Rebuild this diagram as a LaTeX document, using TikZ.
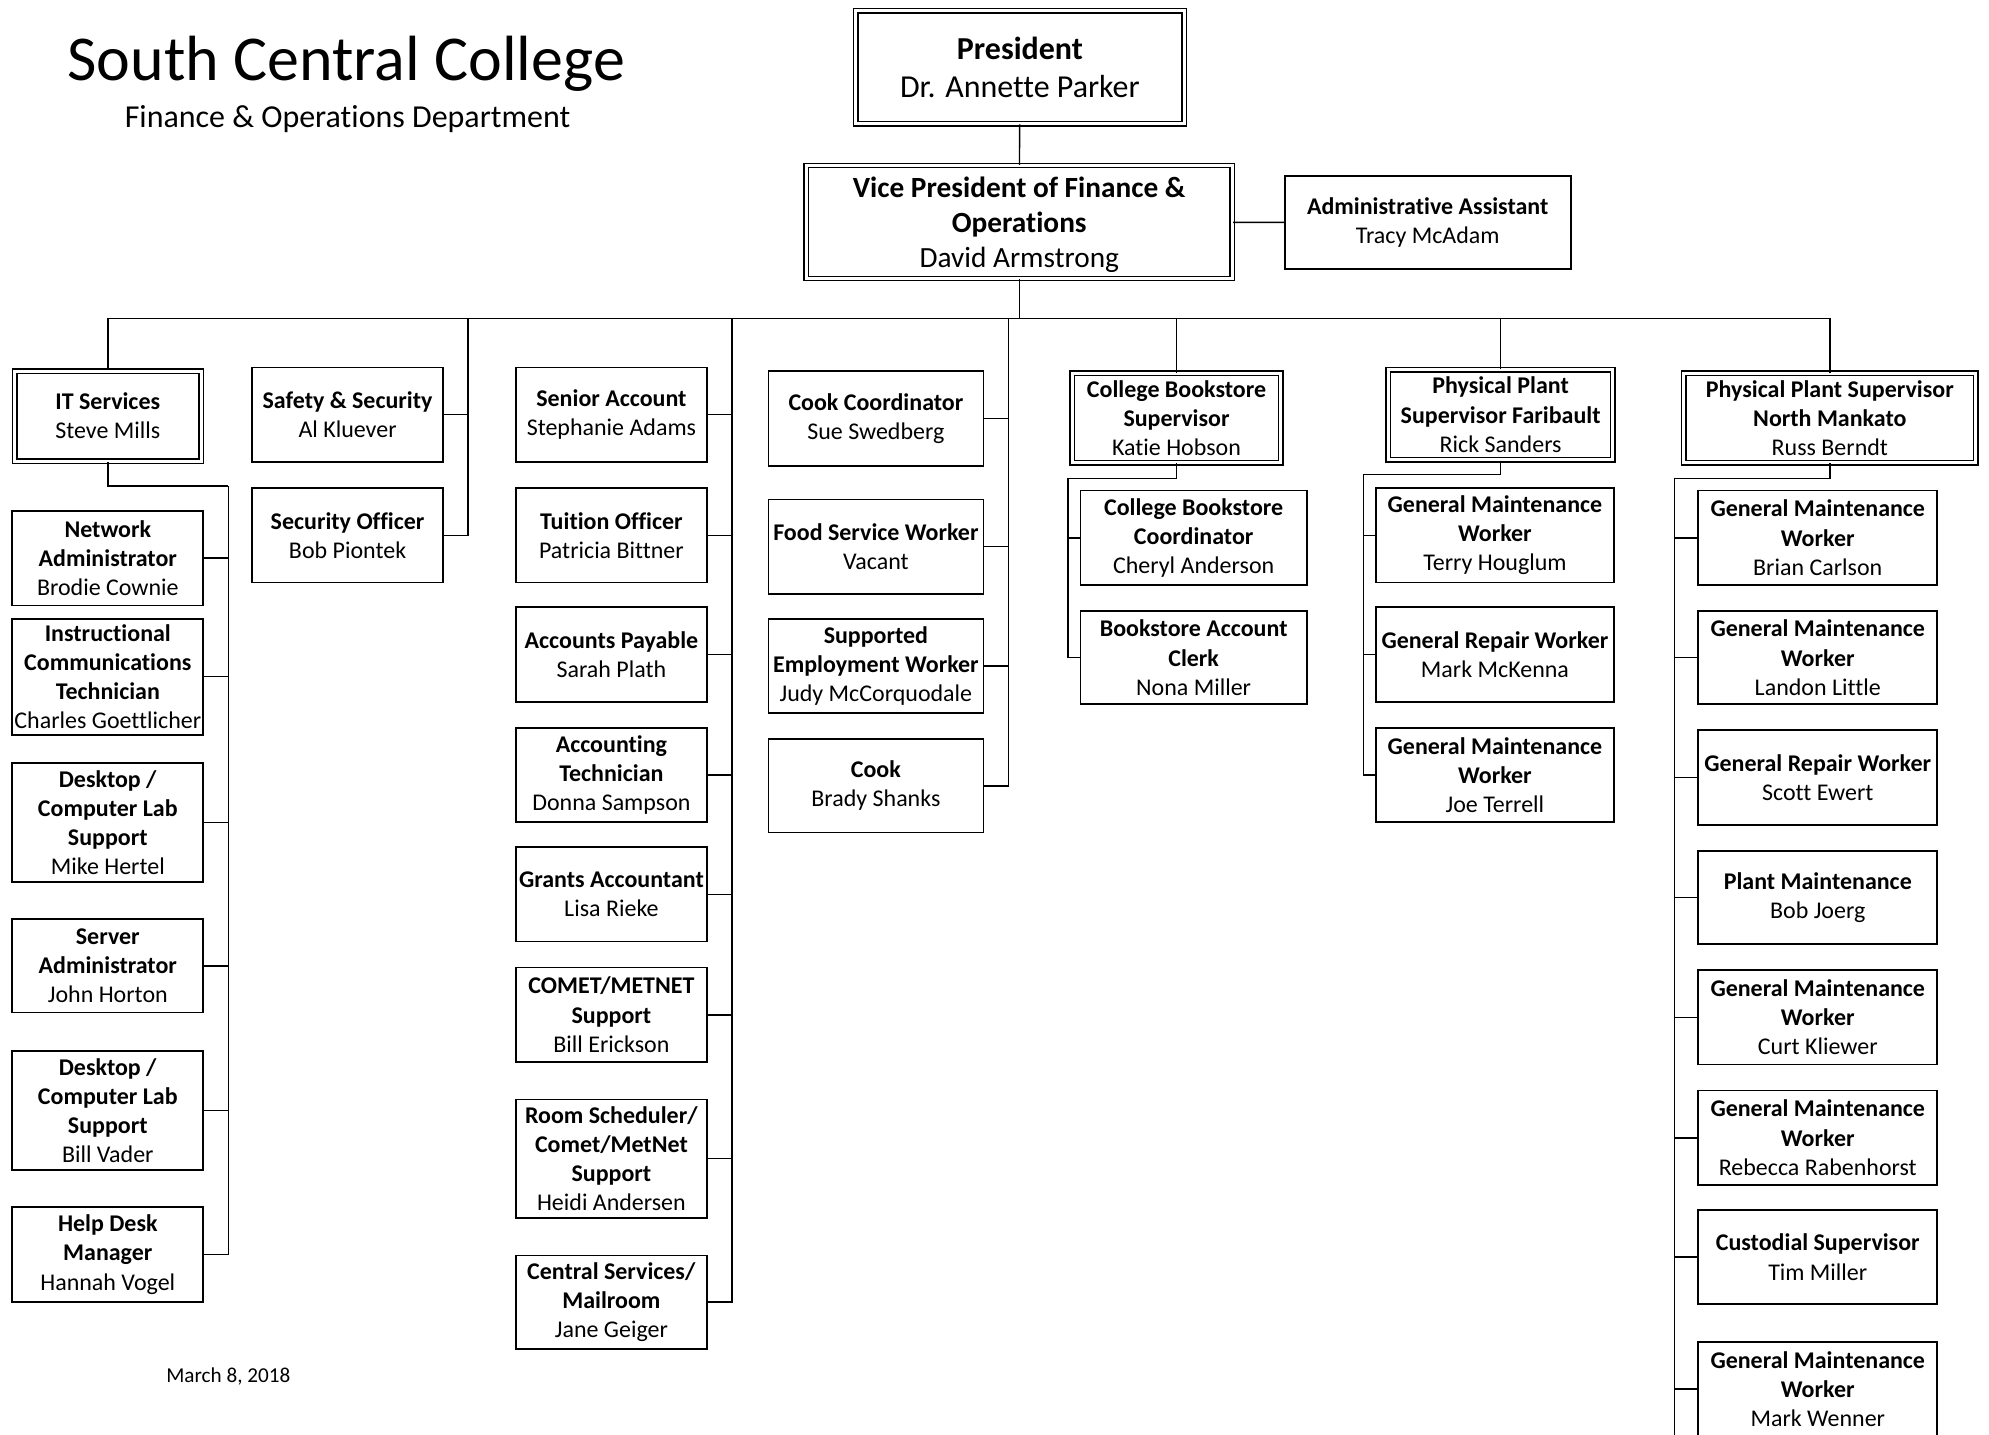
\documentclass[tikz,border=0pt]{standalone}
\usepackage{fontspec}
\setmainfont{Carlito}[RawFeature={-liga;-clig;-calt;-dlig}]
\usepackage{tikz}

\begin{document}
\begin{tikzpicture}[
		x=1pt, y=-1pt,
		line width=1.1pt,
		post/.style = {
			rectangle, draw, line width=1.4pt,
			align=center, inner sep=0pt,
			font=\fontsize{18.9}{23}\selectfont
		},
		lead/.style = {
			post, double, double distance=2.4pt, line width=1.1pt
		}
	]
	\useasboundingbox (0,0) rectangle (1568,1131);

	% heading
	\node[inner sep=0pt, font=\fontsize{50.4}{60}\selectfont] (title) at (273,50) {South Central College};
	\node[inner sep=0pt, font=\fontsize{25.2}{30}\selectfont] (dept) at (274,94) {Finance \& Operations Department};
	\node[inner sep=0pt, font=\fontsize{16.7}{20}\selectfont] (date) at (180,1085) {March 8, 2018};

	% top
	\node[lead, minimum width=259pt, minimum height=89pt, font=\fontsize{25.2}{30}\selectfont] (pres) at (804,53)
		{\textbf{President}\\Dr. Annette Parker};
	\node[lead, minimum width=336pt, minimum height=89pt, text depth=0pt, font=\fontsize{23.1}{27.5}\selectfont] (vp) at (803.5,175)
		{\textbf{Vice President of Finance \&}\\\textbf{Operations}\\David Armstrong};
	\node[post, minimum width=225.5pt, minimum height=73.5pt] (admin) at (1125.5,175.5)
		{\textbf{Administrative Assistant}\\Tracy McAdam};

	% IT
	\node[lead, minimum width=147pt, minimum height=71pt] (it) at (85,328) {\textbf{IT Services}\\Steve Mills};
	\node[post, minimum width=150.5pt, minimum height=74.5pt] (net) at (85,440)
		{\textbf{Network}\\\textbf{Administrator}\\Brodie Cownie};
	\node[post, minimum width=150.5pt, minimum height=91.5pt] (instr) at (85,533.5)
		{\textbf{Instructional}\\\textbf{Communications}\\\textbf{Technician}\\Charles Goettlicher};
	\node[post, minimum width=150.5pt, minimum height=93.5pt] (deskA) at (85,648.5)
		{\textbf{Desktop /}\\\textbf{Computer Lab}\\\textbf{Support}\\Mike Hertel};
	\node[post, minimum width=150.5pt, minimum height=73.5pt] (server) at (85,761.5)
		{\textbf{Server}\\\textbf{Administrator}\\John Horton};
	\node[post, minimum width=150.5pt, minimum height=93.5pt] (deskB) at (85,875.5)
		{\textbf{Desktop /}\\\textbf{Computer Lab}\\\textbf{Support}\\Bill Vader};
	\node[post, minimum width=150.5pt, minimum height=74.5pt] (helpdesk) at (85,989)
		{\textbf{Help Desk}\\\textbf{Manager}\\Hannah Vogel};

	% safety
	\node[post, minimum width=150.5pt, minimum height=74.5pt] (safety) at (274,327)
		{\textbf{Safety \& Security}\\Al Kluever};
	\node[post, minimum width=150.5pt, minimum height=74.5pt] (secoff) at (274,422)
		{\textbf{Security Officer}\\Bob Piontek};

	% finance
	\node[post, minimum width=150.5pt, minimum height=74.5pt] (senior) at (482,327)
		{\textbf{Senior Account}\\Stephanie Adams};
	\node[post, minimum width=150.5pt, minimum height=74.5pt] (tuition) at (482,422)
		{\textbf{Tuition Officer}\\Patricia Bittner};
	\node[post, minimum width=150.5pt, minimum height=74.5pt] (payable) at (482,516)
		{\textbf{Accounts Payable}\\Sarah Plath};
	\node[post, minimum width=150.5pt, minimum height=74.5pt] (accttech) at (482,611)
		{\textbf{Accounting}\\\textbf{Technician}\\Donna Sampson};
	\node[post, minimum width=150.5pt, minimum height=74.5pt] (grants) at (482,705)
		{\textbf{Grants Accountant}\\Lisa Rieke};
	\node[post, minimum width=150.5pt, minimum height=74.5pt] (comet) at (482,800)
		{\textbf{COMET/METNET}\\\textbf{Support}\\Bill Erickson};
	\node[post, minimum width=150.5pt, minimum height=93.5pt] (rooms) at (482,913.5)
		{\textbf{Room Scheduler/}\\\textbf{Comet/MetNet}\\\textbf{Support}\\Heidi Andersen};
	\node[post, minimum width=150.5pt, minimum height=73.5pt] (central) at (482,1026.5)
		{\textbf{Central Services/}\\\textbf{Mailroom}\\Jane Geiger};

	% food service
	\node[post, minimum width=169.5pt, minimum height=74.5pt] (cookcoord) at (690.5,330)
		{\textbf{Cook Coordinator}\\Sue Swedberg};
	\node[post, minimum width=169.5pt, minimum height=74.5pt] (foodsvc) at (690.5,431)
		{\textbf{Food Service Worker}\\Vacant};
	\node[post, minimum width=169.5pt, minimum height=74.5pt] (supported) at (690.5,525)
		{\textbf{Supported}\\\textbf{Employment Worker}\\Judy McCorquodale};
	\node[post, minimum width=169.5pt, minimum height=73.5pt] (cook) at (690.5,619.5)
		{\textbf{Cook}\\Brady Shanks};

	% bookstore
	\node[lead, minimum width=164.5pt, minimum height=70.5pt] (books) at (927.5,329.5)
		{\textbf{College Bookstore}\\\textbf{Supervisor}\\Katie Hobson};
	\node[post, minimum width=178.5pt, minimum height=74.5pt] (bkcoord) at (941,424)
		{\textbf{College Bookstore}\\\textbf{Coordinator}\\Cheryl Anderson};
	\node[post, minimum width=178.5pt, minimum height=73.5pt] (bkclerk) at (941,518.5)
		{\textbf{Bookstore Account}\\\textbf{Clerk}\\Nona Miller};

	% plant Faribault
	\node[lead, minimum width=177pt, minimum height=71pt] (fbplant) at (1183,327)
		{\textbf{Physical Plant}\\\textbf{Supervisor Faribault}\\Rick Sanders};
	\node[post, minimum width=187.5pt, minimum height=74.5pt] (fbmaintA) at (1178.5,422)
		{\textbf{General Maintenance}\\\textbf{Worker}\\Terry Houglum};
	\node[post, minimum width=187.5pt, minimum height=74.5pt] (fbrepair) at (1178.5,516)
		{\textbf{General Repair Worker}\\Mark McKenna};
	\node[post, minimum width=187.5pt, minimum height=74.5pt] (fbmaintB) at (1178.5,611)
		{\textbf{General Maintenance}\\\textbf{Worker}\\Joe Terrell};

	% plant North Mankato
	\node[lead, minimum width=230pt, minimum height=70.5pt] (nmplant) at (1442.5,329.5)
		{\textbf{Physical Plant Supervisor}\\\textbf{North Mankato}\\Russ Berndt};
	\node[post, minimum width=188.5pt, minimum height=74.5pt] (nmA) at (1433,424)
		{\textbf{General Maintenance}\\\textbf{Worker}\\Brian Carlson};
	\node[post, minimum width=188.5pt, minimum height=73.5pt] (nmB) at (1433,518.5)
		{\textbf{General Maintenance}\\\textbf{Worker}\\Landon Little};
	\node[post, minimum width=188.5pt, minimum height=74.5pt] (nmC) at (1433,613)
		{\textbf{General Repair Worker}\\Scott Ewert};
	\node[post, minimum width=188.5pt, minimum height=73.5pt] (nmD) at (1433,707.5)
		{\textbf{Plant Maintenance}\\Bob Joerg};
	\node[post, minimum width=188.5pt, minimum height=74.5pt] (nmE) at (1433,802)
		{\textbf{General Maintenance}\\\textbf{Worker}\\Curt Kliewer};
	\node[post, minimum width=188.5pt, minimum height=74.5pt] (nmF) at (1433,897)
		{\textbf{General Maintenance}\\\textbf{Worker}\\Rebecca Rabenhorst};
	\node[post, minimum width=188.5pt, minimum height=74.5pt] (nmG) at (1433,991)
		{\textbf{Custodial Supervisor}\\Tim Miller};
	\node[post, minimum width=188.5pt, minimum height=74.5pt] (nmH) at (1433,1095)
		{\textbf{General Maintenance}\\\textbf{Worker}\\Mark Wenner};

	% lines
	\coordinate (busL) at (85,251);
	\coordinate (busR) at (1443,251);
	\coordinate (safetop) at (369,251);
	\coordinate (fintop) at (577,251);
	\coordinate (cooktop) at (795,251);
	\coordinate (itbend) at (180,383);
	\coordinate (bkbend) at (842,377);
	\coordinate (fbbend) at (1075,374);
	\coordinate (nmbend) at (1320,377);
	\coordinate (nmend) at (1320,1140);

	\draw (pres) -- (vp);
	\draw (vp) -- (admin);
	\draw (busL) -- (busR);
	\draw (vp.south) -- (vp.south |- busL);
	\draw (it.north) -- (it.north |- busL);
	\draw (books.north) -- (books.north |- busL);
	\draw (fbplant.north) -- (fbplant.north |- busL);
	\draw (nmplant.north) -- (nmplant.north |- busL);

	\draw (safety.east) -| (safetop);
	\draw (secoff.east) -| (safetop);

	\draw (senior.east) -| (fintop);
	\draw (tuition.east) -| (fintop);
	\draw (payable.east) -| (fintop);
	\draw (accttech.east) -| (fintop);
	\draw (grants.east) -| (fintop);
	\draw (comet.east) -| (fintop);
	\draw (rooms.east) -| (fintop);
	\draw (central.east) -| (fintop);

	\draw (cookcoord.east) -| (cooktop);
	\draw (foodsvc.east) -| (cooktop);
	\draw (supported.east) -| (cooktop);
	\draw (cook.east) -| (cooktop);

	\draw (it.south) |- (itbend);
	\draw (net.east) -| (itbend);
	\draw (instr.east) -| (itbend);
	\draw (deskA.east) -| (itbend);
	\draw (server.east) -| (itbend);
	\draw (deskB.east) -| (itbend);
	\draw (helpdesk.east) -| (itbend);

	\draw (books.south) |- (bkbend);
	\draw (bkcoord.west) -| (bkbend);
	\draw (bkclerk.west) -| (bkbend);

	\draw (fbplant.south) |- (fbbend);
	\draw (fbmaintA.west) -| (fbbend);
	\draw (fbrepair.west) -| (fbbend);
	\draw (fbmaintB.west) -| (fbbend);

	\draw (nmplant.south) |- (nmbend);
	\draw (nmbend) -- (nmend);
	\draw (nmA.west) -| (nmbend);
	\draw (nmB.west) -| (nmbend);
	\draw (nmC.west) -| (nmbend);
	\draw (nmD.west) -| (nmbend);
	\draw (nmE.west) -| (nmbend);
	\draw (nmF.west) -| (nmbend);
	\draw (nmG.west) -| (nmbend);
	\draw (nmH.west) -| (nmbend);
\end{tikzpicture}
\end{document}
